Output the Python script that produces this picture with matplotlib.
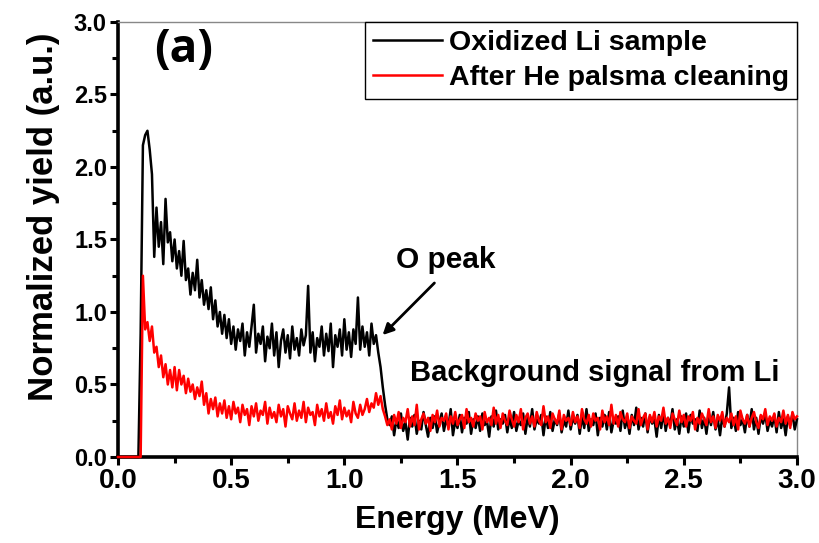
import numpy as np
import matplotlib.pyplot as plt

# energy channels (MeV), one every 0.01 MeV
energy = np.linspace(0.0, 3.0, 301)

# Oxidized Li sample
oxidized = [
    0, 0, 0, 0, 0, 0, 0, 0, 0, 0,
    0.85, 2.15, 2.22, 2.25, 2.12, 1.95, 1.38, 1.72, 1.45, 1.62,
    1.33, 1.78, 1.48, 1.55, 1.35, 1.50, 1.30, 1.42, 1.25, 1.49,
    1.22, 1.30, 1.12, 1.27, 1.15, 1.36, 1.10, 1.22, 1.05, 1.15,
    1.02, 1.17, 0.95, 1.08, 0.90, 1.00, 0.85, 0.98, 0.82, 0.95,
    0.78, 0.90, 0.74, 0.88, 0.80, 0.92, 0.70, 0.86, 0.76, 0.90,
    1.05, 0.72, 0.85, 0.78, 0.90, 0.66, 0.83, 0.75, 0.92, 0.70,
    0.86, 0.62, 0.80, 0.88, 0.72, 0.84, 0.68, 0.90, 0.74, 0.82,
    0.70, 0.88, 0.77, 0.84, 1.18, 0.72, 0.86, 0.66, 0.82, 0.76,
    0.90, 0.70, 0.85, 0.73, 0.92, 0.62, 0.84, 0.76, 0.88, 0.70,
    0.95, 0.74, 0.86, 0.69, 0.88, 0.78, 1.10, 0.74, 0.90, 0.76,
    0.86, 0.70, 0.92, 0.78, 0.84, 0.72, 0.62, 0.48, 0.36, 0.26,
    0.22, 0.28, 0.15, 0.26, 0.20, 0.30, 0.18, 0.24, 0.12, 0.27,
    0.21, 0.29, 0.16, 0.25, 0.19, 0.31, 0.22, 0.14, 0.27, 0.20,
    0.28, 0.17, 0.24, 0.30, 0.18, 0.26, 0.21, 0.33, 0.15, 0.25,
    0.20, 0.29, 0.17, 0.27, 0.23, 0.31, 0.16, 0.26, 0.20, 0.28,
    0.18, 0.30, 0.22, 0.25, 0.14, 0.28, 0.21, 0.32, 0.19, 0.26,
    0.23, 0.29, 0.17, 0.27, 0.20, 0.31, 0.18, 0.25, 0.22, 0.30,
    0.16, 0.27, 0.21, 0.33, 0.19, 0.26, 0.23, 0.29, 0.15, 0.28,
    0.20, 0.31, 0.18, 0.26, 0.22, 0.30, 0.17, 0.25, 0.21, 0.32,
    0.19, 0.27, 0.23, 0.29, 0.16, 0.28, 0.20, 0.33, 0.18, 0.26,
    0.22, 0.30, 0.15, 0.27, 0.21, 0.29, 0.19, 0.31, 0.17, 0.25,
    0.23, 0.28, 0.18, 0.32, 0.20, 0.26, 0.16, 0.29, 0.22, 0.34,
    0.19, 0.27, 0.21, 0.30, 0.17, 0.28, 0.23, 0.26, 0.14, 0.29,
    0.20, 0.31, 0.18, 0.27, 0.22, 0.33, 0.19, 0.26, 0.16, 0.28,
    0.21, 0.30, 0.17, 0.29, 0.23, 0.26, 0.18, 0.32, 0.20, 0.27,
    0.16, 0.29, 0.22, 0.31, 0.19, 0.26, 0.15, 0.28, 0.21, 0.30,
    0.48, 0.20, 0.27, 0.18, 0.31, 0.22, 0.26, 0.17, 0.29, 0.21,
    0.33, 0.19, 0.27, 0.16, 0.28, 0.23, 0.30, 0.18, 0.25, 0.21,
    0.29, 0.17, 0.31, 0.20, 0.26, 0.15, 0.28, 0.22, 0.30, 0.19,
    0.26,
]

# After He plasma cleaning
cleaned = [
    0, 0, 0, 0, 0, 0, 0, 0, 0, 0,
    0.0, 1.25, 0.88, 0.93, 0.80, 0.90, 0.72, 0.76, 0.62, 0.70,
    0.55, 0.64, 0.50, 0.60, 0.48, 0.62, 0.46, 0.60, 0.50, 0.56,
    0.44, 0.54, 0.45, 0.50, 0.40, 0.48, 0.42, 0.52, 0.36, 0.44,
    0.30, 0.40, 0.33, 0.41, 0.28, 0.37, 0.30, 0.39, 0.27, 0.35,
    0.26, 0.38, 0.30, 0.34, 0.24, 0.36, 0.29, 0.33, 0.22, 0.35,
    0.28, 0.37, 0.25, 0.32, 0.29, 0.38, 0.23, 0.34, 0.27, 0.31,
    0.24, 0.36, 0.28, 0.33, 0.21, 0.35, 0.30, 0.26, 0.37, 0.25,
    0.32, 0.27, 0.38, 0.24, 0.34, 0.29, 0.31, 0.22, 0.36, 0.28,
    0.33, 0.25, 0.37, 0.27, 0.31, 0.23, 0.35, 0.29, 0.39, 0.26,
    0.34, 0.28, 0.32, 0.24, 0.38, 0.30, 0.27, 0.36, 0.29, 0.33,
    0.40, 0.31, 0.37, 0.34, 0.44, 0.36, 0.42, 0.33, 0.28, 0.22,
    0.26, 0.19, 0.29, 0.23, 0.31, 0.20, 0.27, 0.24, 0.33, 0.21,
    0.28, 0.22, 0.36, 0.19, 0.26, 0.30, 0.23, 0.27, 0.18, 0.29,
    0.24, 0.32, 0.21, 0.27, 0.25, 0.30, 0.19, 0.28, 0.23, 0.31,
    0.22, 0.26, 0.29, 0.20, 0.33, 0.24, 0.27, 0.21, 0.30, 0.25,
    0.28, 0.19, 0.31, 0.24, 0.27, 0.22, 0.34, 0.23, 0.29, 0.20,
    0.30, 0.25, 0.22, 0.32, 0.26, 0.21, 0.29, 0.24, 0.33, 0.19,
    0.27, 0.30, 0.23, 0.28, 0.21, 0.31, 0.25, 0.22, 0.35, 0.24,
    0.28, 0.20, 0.30, 0.26, 0.23, 0.32, 0.19, 0.29, 0.25, 0.27,
    0.22, 0.31, 0.24, 0.28, 0.20, 0.33, 0.26, 0.23, 0.29, 0.21,
    0.30, 0.25, 0.27, 0.19, 0.32, 0.24, 0.28, 0.22, 0.36, 0.23,
    0.29, 0.21, 0.31, 0.26, 0.24, 0.30, 0.20, 0.28, 0.25, 0.23,
    0.33, 0.22, 0.27, 0.30, 0.19, 0.29, 0.24, 0.31, 0.21, 0.28,
    0.25, 0.34, 0.23, 0.27, 0.20, 0.30, 0.26, 0.22, 0.32, 0.24,
    0.29, 0.21, 0.28, 0.25, 0.31, 0.19, 0.27, 0.23, 0.30, 0.26,
    0.22, 0.33, 0.24, 0.28, 0.20, 0.29, 0.25, 0.31, 0.21, 0.27,
    0.24, 0.30, 0.22, 0.28, 0.19, 0.32, 0.26, 0.23, 0.29, 0.21,
    0.27, 0.31, 0.24, 0.20, 0.29, 0.26, 0.33, 0.22, 0.28, 0.25,
    0.30, 0.21, 0.27, 0.24, 0.32, 0.23, 0.29, 0.20, 0.31, 0.26,
    0.28,
]

labels = ["Oxidized Li sample", "After He palsma cleaning"]
xticks = [0.0, 0.5, 1.0, 1.5, 2.0, 2.5, 3.0]
yticks = [0.0, 0.5, 1.0, 1.5, 2.0, 2.5, 3.0]

plt.rcParams['font.family'] = ['Liberation Sans', 'DejaVu Sans']
plt.rcParams['font.weight'] = 'bold'

fig = plt.figure(figsize=(8.19, 5.43), dpi=100)
ax = fig.add_axes([0.1441, 0.1584, 0.8290, 0.8011])

ax.plot(energy, oxidized, color='black', lw=1.8, label=labels[0], clip_on=False, zorder=3)
ax.plot(energy, cleaned, color='red', lw=1.8, label=labels[1], clip_on=False, zorder=3)

ax.set_xlim(0, 3.0)
ax.set_ylim(0, 3.0)
ax.set_xticks(xticks)
ax.set_yticks(yticks)
ax.set_xticks(np.arange(0.25, 3.0, 0.5), minor=True)
ax.set_yticks(np.arange(0.25, 3.0, 0.5), minor=True)
ax.set_xticklabels([f"{t:.1f}" for t in xticks], fontsize=20, fontweight='bold')
ax.set_yticklabels([f"{t:.1f}" for t in yticks], fontsize=17, fontweight='bold')

ax.tick_params(which='major', direction='out', length=6, width=2.2, pad=2,
               color='black', bottom=True, left=True, top=False, right=False)
ax.tick_params(which='minor', direction='out', length=4, width=2.2,
               color='black', bottom=True, left=True, top=False, right=False)

for side in ['left', 'bottom']:
    ax.spines[side].set_linewidth(2.6)
for side in ['right', 'top']:
    ax.spines[side].set_linewidth(1.0)
    ax.spines[side].set_color('#888888')

ax.set_xlabel("Energy (MeV)", fontsize=23, fontweight='bold', labelpad=8)
ax.set_ylabel("Normalized yield (a.u.)", fontsize=25, fontweight='bold')
ax.yaxis.set_label_coords(-0.086, 0.552)

ax.text(0.29, 2.81, "(a)", fontsize=33, fontweight='bold', family=['Open Sans', 'DejaVu Sans'],
        ha='center', va='center')
ax.text(1.447, 1.36, "O peak", fontsize=21.5, fontweight='bold', ha='center', va='center')
ax.annotate("", xy=(1.169, 0.841), xytext=(1.398, 1.20),
            arrowprops=dict(arrowstyle='-|>', color='black', lw=2,
                            shrinkA=0, shrinkB=0, mutation_scale=16))
ax.text(1.292, 0.58, "Background signal from Li", fontsize=21, fontweight='bold',
        ha='left', va='center')

leg = ax.legend(loc='upper right', fontsize=20.5, frameon=True, fancybox=False,
                edgecolor='black', framealpha=1, borderaxespad=0,
                handlelength=2.4, handletextpad=0.25, labelspacing=0.32,
                borderpad=0.28)
leg.get_frame().set_linewidth(1.0)
for t in leg.get_texts():
    t.set_fontweight('bold')

fig.savefig("out.png", dpi=100)
